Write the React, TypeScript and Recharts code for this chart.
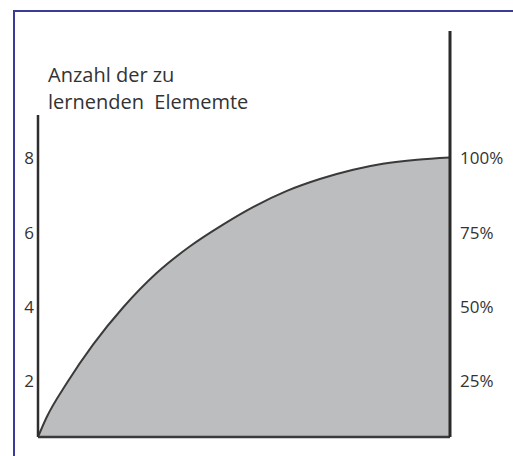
import React from "react";
import {
  Area,
  ComposedChart,
  ReferenceLine,
  XAxis,
  YAxis,
} from "recharts";

// share of the way through (0..100) vs. number of elements to learn
const progress = [0, 2.1, 7, 13.4, 20.7, 28.8, 36.9, 45, 52.3, 60.4, 68.4, 76.5, 83.7, 92, 100];
const elements = [0.5, 1.03, 1.95, 2.99, 3.99, 4.91, 5.63, 6.22, 6.69, 7.12, 7.44, 7.69, 7.85, 7.96, 8.02];

const countTicks = [2, 4, 6, 8];
const percentTicks = [25, 50, 75, 100];
const titleLines = ["Anzahl der zu", "lernenden  Elememte"];

const data = progress.map((t, i) => ({ t, v: elements[i] }));

const font = "'Open Sans', sans-serif";
const ink = "#333";

export default function App() {
  return (
    <div
      style={{
        position: "absolute",
        left: 0,
        top: 0,
        width: 513,
        height: 456,
        background: "#fff",
        fontFamily: font,
      }}
    >
      {/* frame */}
      <div
        style={{
          position: "absolute",
          left: 13,
          top: 10,
          width: 500,
          height: 446,
          borderTop: "2px solid #3b3b9c",
          borderLeft: "2px solid #3b3b9c",
        }}
      />
      <div
        style={{
          position: "absolute",
          left: 48,
          top: 61,
          fontSize: 20,
          lineHeight: "27px",
          color: ink,
          whiteSpace: "pre",
        }}
      >
        {titleLines.map((l) => (
          <div key={l}>{l}</div>
        ))}
      </div>
      <ComposedChart
        width={513}
        height={456}
        data={data}
        margin={{ top: 31, right: 62, left: 37, bottom: 18 }}
        style={{ position: "absolute", left: 0, top: 0 }}
      >
        <XAxis
          dataKey="t"
          type="number"
          domain={[0, 100]}
          height={1}
          tick={false}
          tickLine={false}
          axisLine={{ stroke: "#3a3a3a", strokeWidth: 2.5 }}
        />
        <YAxis
          yAxisId="n"
          width={1}
          domain={[0.5, 11.42]}
          allowDataOverflow
          ticks={countTicks}
          axisLine={false}
          tickLine={false}
          tickSize={0}
          tickMargin={4}
          tick={{ fill: ink, fontSize: 17, fontFamily: font }}
        />
        <YAxis
          yAxisId="pct"
          orientation="right"
          width={1}
          domain={[6.25, 142.75]}
          allowDataOverflow
          ticks={percentTicks}
          tickFormatter={(v: number) => `${v}%`}
          axisLine={{ stroke: "#2a2a2a", strokeWidth: 3 }}
          tickLine={false}
          tickSize={0}
          tickMargin={10}
          tick={{ fill: ink, fontSize: 17, fontFamily: font }}
        />
        <Area
          yAxisId="n"
          dataKey="v"
          type="monotone"
          baseValue={0.5}
          fill="#bcbdbf"
          fillOpacity={1}
          stroke="#3a3a3a"
          strokeWidth={2}
          isAnimationActive={false}
          dot={false}
          activeDot={false}
        />
        <ReferenceLine
          yAxisId="n"
          segment={[
            { x: 0, y: 0.5 },
            { x: 0, y: 9.16 },
          ]}
          stroke="#2e2e2e"
          strokeWidth={2.5}
          ifOverflow="visible"
        />
      </ComposedChart>
    </div>
  );
}
